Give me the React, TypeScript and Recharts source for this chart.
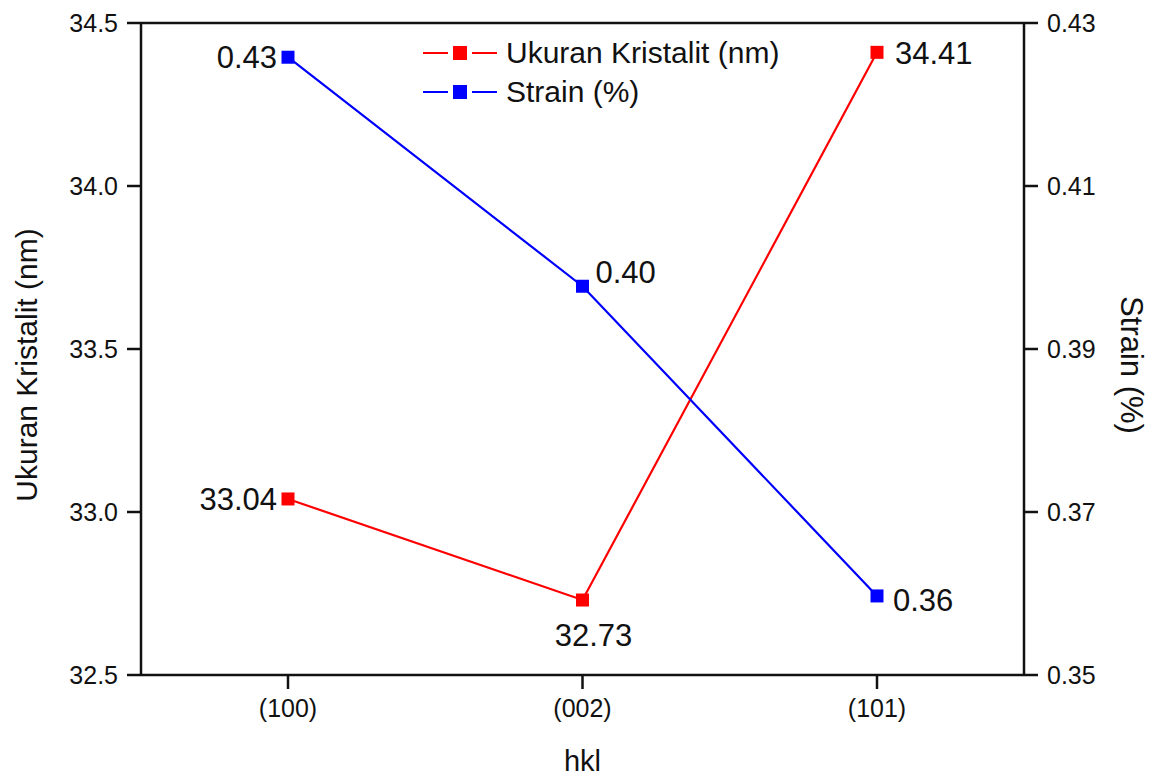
import { LineChart, Line, XAxis, YAxis, Legend, LabelList, Label, ReferenceLine } from 'recharts';

const FONT = 'Arial, "Liberation Sans", sans-serif';

const hklLabels = ['(100)', '(002)', '(101)'];
const crystalliteSize = [33.04, 32.73, 34.41];
const strainPct = [0.4258, 0.3977, 0.3597];
const sizeTicks = [32.5, 33.0, 33.5, 34.0, 34.5];
const strainTicks = [0.35, 0.37, 0.39, 0.41, 0.43];

const data = hklLabels.map((hkl, i) => ({ hkl, size: crystalliteSize[i], strain: strainPct[i] }));

// where each value label sits relative to its point
const sizeLabelPos = [
    { dx: -11, dy: 0, anchor: 'end' },
    { dx: 11, dy: 35, anchor: 'middle' },
    { dx: 18, dy: 0, anchor: 'start' },
];
const strainLabelPos = [
    { dx: -11, dy: 0, anchor: 'end' },
    { dx: 13, dy: -14, anchor: 'start' },
    { dx: 16, dy: 4, anchor: 'start' },
];

const series = [
    { key: 'size', name: 'Ukuran Kristalit (nm)', color: '#ff0000' },
    { key: 'strain', name: 'Strain (%)', color: '#0000ff' },
];

const squareDot = (color: string) => (props: any) => {
    const { cx, cy, index } = props;
    if (cx == null || cy == null) return null;
    return <rect key={`dot-${color}-${index}`} x={cx - 6.5} y={cy - 6.5} width={13} height={13} fill={color} />;
};

const valueLabel = (positions: typeof sizeLabelPos, digits: number) => (props: any) => {
    const { x, y, value, index } = props;
    const p = positions[index];
    return (
        <text
            x={x + p.dx}
            y={y + p.dy}
            dy="0.36em"
            textAnchor={p.anchor}
            fontSize={31}
            fontFamily={FONT}
            fill="#111"
        >
            {Number(value).toFixed(digits)}
        </text>
    );
};

const LegendBox = () => (
    <div style={{ fontFamily: FONT, fontSize: 30, color: '#111' }}>
        {series.map((s) => (
            <div key={s.key} style={{ display: 'flex', alignItems: 'center', height: 39 }}>
                <svg width={86} height={20} style={{ flex: 'none' }}>
                    <line x1={3} y1={10} x2={28} y2={10} stroke={s.color} strokeWidth={2} />
                    <rect x={33} y={3} width={14} height={14} fill={s.color} />
                    <line x1={52} y1={10} x2={77} y2={10} stroke={s.color} strokeWidth={2} />
                </svg>
                <span style={{ whiteSpace: 'nowrap' }}>{s.name}</span>
            </div>
        ))}
    </div>
);

const tickStyle = { fill: '#111', fontSize: 25, fontFamily: FONT };
const axisStroke = { stroke: '#111', strokeWidth: 2.5 };

export default function App() {
    return (
        <div style={{ position: 'absolute', left: 0, top: 0, background: '#fff', fontFamily: FONT }}>
            <LineChart width={1150} height={776} data={data} margin={{ top: 23, right: 0, bottom: 0, left: 0 }}>
                <XAxis
                    dataKey="hkl"
                    height={101}
                    padding={{ left: 147, right: 147 }}
                    tick={tickStyle}
                    tickSize={14}
                    tickMargin={10}
                    axisLine={axisStroke}
                    tickLine={axisStroke}
                >
                    <Label
                        content={(props: any) => {
                            const vb = props.viewBox;
                            return (
                                <text x={vb.x + vb.width / 2} y={771} textAnchor="middle" fontSize={29} fontFamily={FONT} fill="#111">
                                    hkl
                                </text>
                            );
                        }}
                    />
                </XAxis>
                <YAxis
                    yAxisId="left"
                    width={141}
                    domain={[32.5, 34.5]}
                    ticks={sizeTicks}
                    tickFormatter={(v: number) => v.toFixed(1)}
                    tick={tickStyle}
                    tickSize={14}
                    tickMargin={9}
                    axisLine={axisStroke}
                    tickLine={axisStroke}
                    allowDataOverflow
                >
                    <Label
                        content={(props: any) => {
                            const vb = props.viewBox;
                            const cx = vb.x + 37;
                            const cy = 365;
                            return (
                                <text x={cx} y={cy} transform={`rotate(-90 ${cx} ${cy})`} textAnchor="middle" fontSize={30} fontFamily={FONT} fill="#111">
                                    Ukuran Kristalit (nm)
                                </text>
                            );
                        }}
                    />
                </YAxis>
                <YAxis
                    yAxisId="right"
                    orientation="right"
                    width={126}
                    domain={[0.35, 0.43]}
                    ticks={strainTicks}
                    tickFormatter={(v: number) => v.toFixed(2)}
                    tick={tickStyle}
                    tickSize={14}
                    tickMargin={9}
                    axisLine={axisStroke}
                    tickLine={axisStroke}
                    allowDataOverflow
                >
                    <Label
                        content={(props: any) => {
                            const vb = props.viewBox;
                            const cx = vb.x + 97;
                            const cy = 365;
                            return (
                                <text x={cx} y={cy} transform={`rotate(90 ${cx} ${cy})`} textAnchor="middle" fontSize={31} fontFamily={FONT} fill="#111">
                                    Strain (%)
                                </text>
                            );
                        }}
                    />
                </YAxis>
                <ReferenceLine yAxisId="left" y={34.5} stroke="#111" strokeWidth={2.5} />
                <Legend
                    verticalAlign="middle"
                    align="center"
                    wrapperStyle={{ left: 420, top: 33, width: 420, height: 80 }}
                    content={() => <LegendBox />}
                />
                <Line
                    yAxisId="left"
                    dataKey="size"
                    name={series[0].name}
                    stroke={series[0].color}
                    strokeWidth={2.2}
                    dot={squareDot(series[0].color)}
                    activeDot={false}
                    isAnimationActive={false}
                >
                    <LabelList dataKey="size" content={valueLabel(sizeLabelPos, 2)} />
                </Line>
                <Line
                    yAxisId="right"
                    dataKey="strain"
                    name={series[1].name}
                    stroke={series[1].color}
                    strokeWidth={2.2}
                    dot={squareDot(series[1].color)}
                    activeDot={false}
                    isAnimationActive={false}
                >
                    <LabelList dataKey="strain" content={valueLabel(strainLabelPos, 2)} />
                </Line>
            </LineChart>
        </div>
    );
}
